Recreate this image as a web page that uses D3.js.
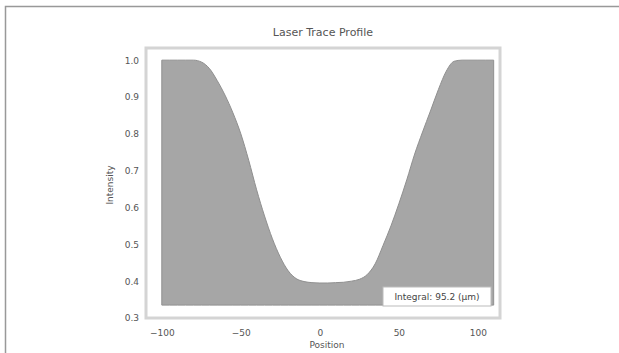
<!DOCTYPE html>
<html><head><meta charset="utf-8">
<script src="https://cdn.jsdelivr.net/npm/d3@7"></script>
<style>body{margin:0;background:#fff}svg{display:block}text{font-family:"DejaVu Sans",sans-serif}</style>
</head><body><svg id="c" width="619" height="353"></svg>
<script>
const positions = [-100,-95,-90,-85,-80,-75,-70,-65,-60,-55,-50,-45,-40,-35,-30,-25,-20,-15,-10,-5,0,5,10,15,20,25,30,35,40,45,50,55,60,65,70,75,80,85,90,95,100,105,110];
const intensity = [1.0,1.0,1.0,1.0,1.0,0.995,0.978,0.945,0.905,0.857,0.80,0.728,0.648,0.577,0.515,0.465,0.428,0.407,0.399,0.396,0.395,0.395,0.396,0.397,0.40,0.405,0.418,0.447,0.497,0.55,0.61,0.675,0.745,0.805,0.862,0.92,0.97,0.997,1.0,1.0,1.0,1.0,1.0];
const xTicks = [-100,-50,0,50,100];
const yTicks = [0.3,0.4,0.5,0.6,0.7,0.8,0.9,1.0];
const baseline = 0.335;
const titleText = "Laser Trace Profile";
const xLabel = "Position";
const yLabel = "Intensity";
const legendText = "Integral: 95.2 (µm)";

const svg = d3.select("#c");
svg.append("rect").attr("x",5.5).attr("y",6.5).attr("width",700).attr("height",400)
  .attr("fill","none").attr("stroke","#999").attr("stroke-width",1.5);

const L=146, R=500, T=48, B=318;
const x = d3.scaleLinear().domain([-110,114]).range([L,R]);
const y = d3.scaleLinear().domain([0.3,1.033]).range([B,T]);

svg.append("rect").attr("x",L).attr("y",T).attr("width",R-L).attr("height",B-T)
  .attr("fill","#fff").attr("stroke","#d4d4d4").attr("stroke-width",3);

const data = positions.map((p,i)=>({p, v:intensity[i]}));
svg.append("path").datum(data)
  .attr("d", d3.area().x(d=>x(d.p)).y0(y(baseline)).y1(d=>y(d.v)).curve(d3.curveMonotoneX))
  .attr("fill","#a6a6a6").attr("stroke","#8f8f8f").attr("stroke-width",1);

const xa = svg.append("g").attr("transform",`translate(0,${B})`)
  .call(d3.axisBottom(x).tickValues(xTicks).tickSize(0).tickPadding(12).tickFormat(d3.format("d")));
const ya = svg.append("g").attr("transform",`translate(${L},0)`)
  .call(d3.axisLeft(y).tickValues(yTicks).tickSize(0).tickPadding(7).tickFormat(d3.format(".1f")));
[xa,ya].forEach(g=>{g.select(".domain").remove(); g.selectAll("text").attr("fill","#555").attr("font-size",9);});

svg.append("text").attr("x",323).attr("y",36).attr("text-anchor","middle")
  .attr("font-size",11).attr("fill","#555").text(titleText);
svg.append("text").attr("x",327).attr("y",348).attr("text-anchor","middle")
  .attr("font-size",9).attr("fill","#555").text(xLabel);
svg.append("text").attr("transform","translate(113,185) rotate(-90)").attr("text-anchor","middle")
  .attr("font-size",9).attr("fill","#555").text(yLabel);

svg.append("rect").attr("x",383).attr("y",287).attr("width",108).attr("height",19)
  .attr("fill","#fff").attr("stroke","#bbb");
svg.append("text").attr("x",437).attr("y",300).attr("text-anchor","middle")
  .attr("font-size",9).attr("fill","#444").text(legendText);
</script></body></html>
